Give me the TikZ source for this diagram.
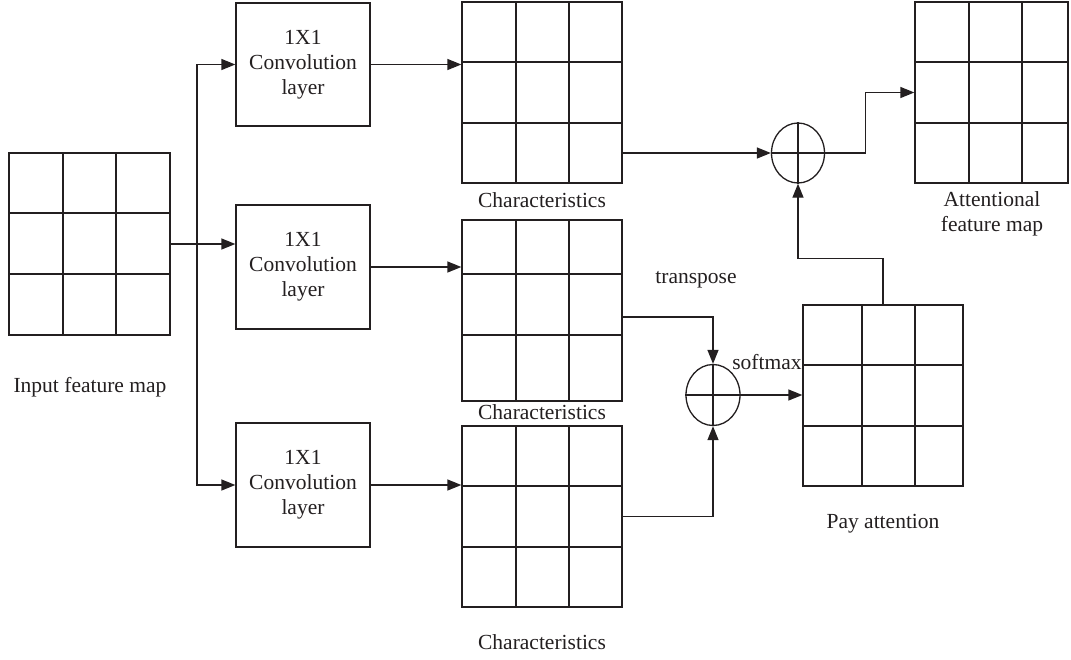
\documentclass[tikz,border=0pt]{standalone}
\usepackage{fontspec}
\setmainfont{Liberation Serif}
\usepackage{xcolor}
\usepackage{tikz}
\usetikzlibrary{arrows.meta, positioning, calc, shapes.geometric}
\definecolor{inkgray}{HTML}{231F20}

\begin{document}
\begin{tikzpicture}[x=1pt, y=-1pt, line width=1.3pt, draw=inkgray,
  gridbox/.style={draw=inkgray, minimum width=160pt, minimum height=181pt, inner sep=0pt},
  convbox/.style={draw=inkgray, minimum width=134pt, minimum height=124pt, align=center,
    font=\fontsize{21.5}{25}\selectfont, text=inkgray},
  sumnode/.style={draw=inkgray, ellipse, minimum width=53pt, minimum height=60pt, inner sep=0pt},
  lbl/.style={font=\fontsize{21.5}{25}\selectfont, text=inkgray, align=center},
  arr/.style={draw=inkgray, -{Triangle[length=14pt, width=11pt]}}]
\useasboundingbox (0,0) rectangle (1071,659);
% input feature map
\node[gridbox, minimum width=161pt, minimum height=182pt] (inmap) at (89.5,244) {};
\draw (63,153) -- (63,335) (116,153) -- (116,335) (9,213) -- (170,213) (9,274) -- (170,274);
\node[lbl] (inlbl) at (90,387) {Input feature map};
% 1x1 convolutions
\node[convbox, minimum height=123pt] (conv1) at (303,64.5) {1X1\\Convolution\\layer};
\node[convbox] (conv2) at (303,267) {1X1\\Convolution\\layer};
\node[convbox] (conv3) at (303,485) {1X1\\Convolution\\layer};
% characteristics
\node[gridbox] (ch1) at (542,92.5) {};
\draw (516,2) -- (516,183) (569,2) -- (569,183) (462,62) -- (622,62) (462,123) -- (622,123);
\node[lbl] (ch1lbl) at (542,200) {Characteristics};
\node[gridbox] (ch2) at (542,310.5) {};
\draw (516,220) -- (516,401) (569,220) -- (569,401) (462,274) -- (622,274) (462,335) -- (622,335);
\node[lbl] (ch2lbl) at (542,412) {Characteristics};
\node[gridbox] (ch3) at (542,516.5) {};
\draw (516,426) -- (516,607) (569,426) -- (569,607) (462,486) -- (622,486) (462,547) -- (622,547);
\node[lbl] (ch3lbl) at (542,642) {Characteristics};
% attentional feature map
\node[gridbox, minimum width=153pt] (att) at (991.5,92.5) {};
\draw (969,2) -- (969,183) (1022,2) -- (1022,183) (915,62) -- (1068,62) (915,123) -- (1068,123);
\node[lbl] (attlbl) at (992,214) {Attentional\\feature map};
% pay attention
\node[gridbox] (pay) at (883,395.5) {};
\draw (862,305) -- (862,486) (915,305) -- (915,486) (803,365) -- (963,365) (803,426) -- (963,426);
\node[lbl] (paylbl) at (883,524) {Pay attention};
% sums
\node[sumnode] (sum1) at (798,153) {};
\draw (sum1.north) -- (sum1.south) (sum1.west) -- (sum1.east);
\node[sumnode, minimum width=54pt, minimum height=61pt] (sum2) at (713,395) {};
\draw (sum2.north) -- (sum2.south) (sum2.west) -- (sum2.east);
\node[lbl] (trlbl) at (696,280) {transpose};
\node[lbl] (smlbl) at (767,362) {softmax};
% connectors
\coordinate (split) at (197,244);
\draw (inmap.east |- split) -- (split);
\draw[arr] (split) |- (conv1.west);
\draw[arr] (split) -- (conv2.west |- split);
\draw[arr] (split) |- (conv3.west);
\draw[arr] (conv1.east) -- (conv1.east -| ch1.west);
\draw[arr] (conv2.east) -- (conv2.east -| ch2.west);
\draw[arr] (conv3.east) -- (conv3.east -| ch3.west);
\draw[arr] (ch1.east |- sum1) -- (sum1.west);
\draw[arr] (sum1.east) -- ++(40,0) |- (att.west);
\draw[arr] (pay.north) -- ++(0,-46) -| (sum1.south);
\draw[arr] ([yshift=-6.5pt]ch2.east) -| (sum2.north);
\draw[arr] (ch3.east) -| (sum2.south);
\draw[arr] (sum2.east) -- (sum2.east -| pay.west);
\end{tikzpicture}
\end{document}
